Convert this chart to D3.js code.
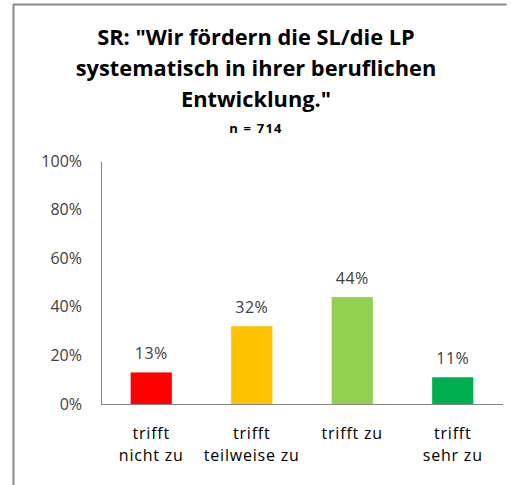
<!DOCTYPE html>
<html>
<head>
<meta charset="utf-8">
<script src="https://cdn.jsdelivr.net/npm/d3@7"></script>
<style>
  body { margin: 0; background: #fff; }
  svg text { font-family: "Open Sans", Lato, sans-serif; }
</style>
</head>
<body>
<div id="chart"></div>
<script>
// chart data
const categories = ["trifft nicht zu", "trifft teilweise zu", "trifft zu", "trifft sehr zu"];
const categoryLines = [["trifft", "nicht zu"], ["trifft", "teilweise zu"], ["trifft zu"], ["trifft", "sehr zu"]];
const values = [13, 32, 44, 11];
const barColors = ["#ff0000", "#ffc000", "#92d050", "#00b050"];
const yTicks = [0, 20, 40, 60, 80, 100];
const titleLines = ['SR: "Wir fördern die SL/die LP', "systematisch in ihrer beruflichen", 'Entwicklung."'];
const subtitle = "n = 714";

// Define the dimensions and margins for the SVG
const W = 511, H = 485;
const margin = {top: 161, right: 8, bottom: 81, left: 101};
const width = W - margin.left - margin.right;
const height = H - margin.top - margin.bottom;

const root = d3.select("#chart").append("svg")
    .attr("width", W)
    .attr("height", H);

// outer frame (cut off at the right and bottom)
root.append("path")
    .attr("d", `M13.5,${H} V4.5 H506.5`)
    .attr("fill", "none")
    .attr("stroke", "#898989")
    .attr("stroke-width", 2);

// title
const title = root.append("text")
    .attr("text-anchor", "middle")
    .attr("font-weight", "bold")
    .attr("font-size", 21.8)
    .attr("fill", "#000");
titleLines.forEach((t, i) => {
    title.append("tspan")
        .attr("x", 256)
        .attr("y", 45 + i * 31)
        .text(t);
});
root.append("text")
    .attr("x", 256)
    .attr("y", 133)
    .attr("text-anchor", "middle")
    .attr("font-weight", "bold")
    .attr("font-size", 13)
    .attr("letter-spacing", 1.2)
    .text(subtitle);

const svg = root.append("g")
    .attr("transform", `translate(${margin.left},${margin.top})`);

// scales
const x = d3.scaleBand()
    .domain(categories)
    .range([0, width])
    .paddingInner(0.59)
    .paddingOuter(0.295);
const y = d3.scaleLinear()
    .domain([0, 100])
    .range([height, 0]);

// y axis
const yAxis = svg.append("g")
    .call(d3.axisLeft(y).tickValues(yTicks).tickSize(0).tickPadding(19).tickFormat(d => d + "%"));
yAxis.select(".domain").attr("stroke", "#868686");
yAxis.selectAll("text")
    .attr("font-size", 16)
    .attr("fill", "#404040")
    .style("font-family", "'Open Sans', sans-serif");

// x axis line
svg.append("line")
    .attr("x1", 0)
    .attr("x2", width)
    .attr("y1", y(0) + 0.5)
    .attr("y2", y(0) + 0.5)
    .attr("stroke", "#868686");

// bars
svg.selectAll(".bar")
    .data(values)
    .enter()
    .append("rect")
    .attr("class", "bar")
    .attr("x", (d, i) => x(categories[i]))
    .attr("y", d => y(d))
    .attr("width", x.bandwidth())
    .attr("height", d => y(0) - y(d))
    .attr("fill", (d, i) => barColors[i]);

// value labels
svg.selectAll(".val")
    .data(values)
    .enter()
    .append("text")
    .attr("class", "val")
    .attr("x", (d, i) => x(categories[i]) + x.bandwidth() / 2)
    .attr("y", d => y(d) - 13)
    .attr("text-anchor", "middle")
    .attr("font-size", 16)
    .attr("letter-spacing", 0.5)
    .attr("fill", "#404040")
    .text(d => d + "%");

// category labels
categoryLines.forEach((lines, i) => {
    const t = svg.append("text")
        .attr("text-anchor", "middle")
        .attr("font-size", 16)
        .attr("letter-spacing", 0.8)
        .attr("fill", "#000");
    lines.forEach((l, j) => {
        t.append("tspan")
            .attr("x", x(categories[i]) + x.bandwidth() / 2)
            .attr("y", height + 35 + j * 22)
            .text(l);
    });
});
</script>
</body>
</html>
